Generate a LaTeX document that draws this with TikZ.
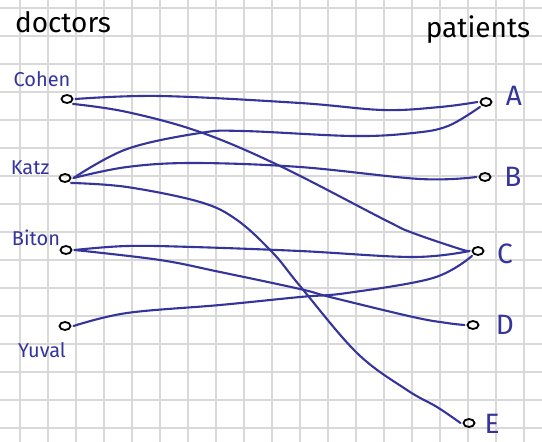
\documentclass[tikz,border=0pt]{standalone}
\usepackage{fontspec}
\setmainfont{Fira Sans}
\usetikzlibrary{shapes.geometric}
\definecolor{ink}{RGB}{52,52,154}
\definecolor{gridgray}{RGB}{217,217,217}
\tikzset{
  dotnode/.style={draw=black, ellipse, line width=1.8pt, minimum width=11pt, minimum height=8pt, inner sep=0pt, outer sep=3pt},
  conn/.style={draw=ink, line width=2.1pt, line cap=round},
  headtxt/.style={font=\fontsize{28}{30}\selectfont, text=black},
  nametxt/.style={font=\fontsize{20}{22}\selectfont, text=ink},
  lettertxt/.style={font=\fontsize{28}{30}\selectfont, text=ink},
}
\begin{document}
\begin{tikzpicture}[x=1pt,y=-1pt]
\useasboundingbox (0,0) rectangle (542,442);
\fill[white] (0,0) rectangle (542,442);
% grid
\foreach \i in {0,...,18} {\draw[gridgray, line width=1.2pt] ({20+28*\i},0) -- ({20+28*\i},442);}
\foreach \j in {0,...,15} {\draw[gridgray, line width=1.2pt] (0,{8+28*\j}) -- (542,{8+28*\j});}
% headings
\node[headtxt] (hdoc) at (63,22) {doctors};
\node[headtxt] (hpat) at (478,30) {patients};
% nodes
\node[dotnode] (cohen) at (67,99) {};
\node[dotnode] (katz) at (65,178) {};
\node[dotnode] (biton) at (66,250) {};
\node[dotnode] (yuval) at (65,326) {};
\node[dotnode] (A) at (486,102) {};
\node[dotnode] (B) at (485,177) {};
\node[dotnode] (C) at (478,251) {};
\node[dotnode] (D) at (473,325) {};
\node[dotnode] (E) at (469,423) {};
% labels
\node[nametxt] (lcohen) at (42,79) {Cohen};
\node[nametxt] (lkatz) at (30,168) {Katz};
\node[nametxt] (lbiton) at (36,238) {Biton};
\node[nametxt] (lyuval) at (42,350) {Yuval};
\node[lettertxt] (lA) at (514,96) {A};
\node[lettertxt] (lB) at (513,177) {B};
\node[lettertxt] (lC) at (505,254) {C};
\node[lettertxt] (lD) at (505,325) {D};
\node[lettertxt] (lE) at (492,424) {E};
% connectors
\draw[conn] plot[smooth, tension=0.6] coordinates {(cohen.east) (160,96) (300,103) (383,110) (440,107) (A.west)};
\draw[conn] plot[smooth, tension=0.6] coordinates {(cohen.south east) (127,112) (200,132) (280,166) (387,221) (413,233) (460,249) (C.west)};
\draw[conn] plot[smooth, tension=0.6] coordinates {(katz.east) (127,149) (200,133) (243,131) (353,136) (413,133) (448,126) (A.south west)};
\draw[conn] plot[smooth, tension=0.6] coordinates {(katz.east) (127,167) (193,163) (300,167) (420,179) (B.west)};
\draw[conn] plot[smooth, tension=0.6] coordinates {(katz.south east) (127,187) (200,202) (237,220) (273,253) (300,286) (357,353) (407,390) (437,407) (E.west)};
\draw[conn] plot[smooth, tension=0.6] coordinates {(biton.east) (127,246) (193,247) (300,251) (413,257) (C.west)};
\draw[conn] plot[smooth, tension=0.6] coordinates {(biton.east) (160,260) (220,272) (300,289) (330,297) (413,317) (447,323) (D.west)};
\draw[conn] plot[smooth, tension=0.6] coordinates {(yuval.east) (127,313) (220,305) (300,297) (347,293) (433,278) (C.south west)};
\end{tikzpicture}
\end{document}
